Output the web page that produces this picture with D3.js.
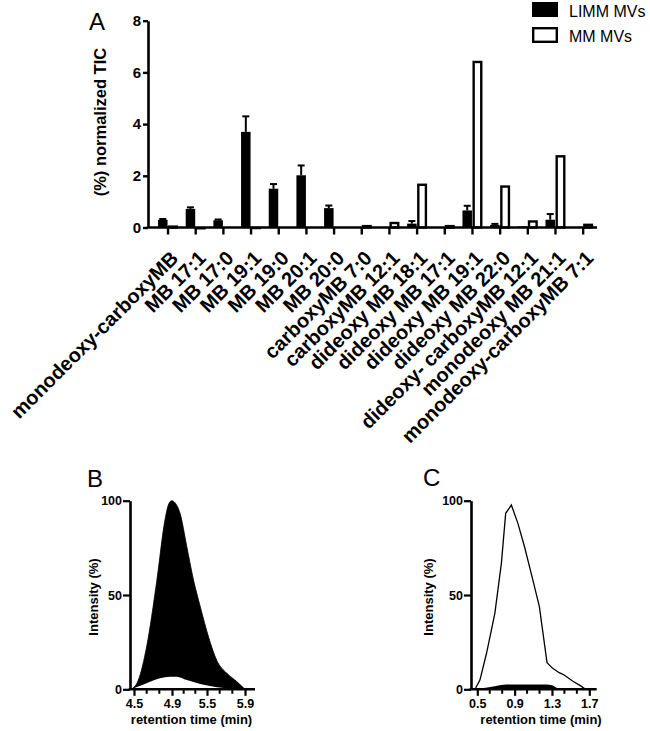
<!DOCTYPE html>
<html><head><meta charset="utf-8">
<script src="https://cdn.jsdelivr.net/npm/d3@7"></script>
<style>
body{margin:0;background:#fff}
svg{display:block}
text{font-family:"Liberation Sans",Arial,Helvetica,sans-serif;fill:#000}
</style>
</head><body>
<svg id="chart" width="650" height="731"></svg>
<script>
// ---------- Panel A data ----------
const categories = [
  "monodeoxy-carboxyMB","MB 17:1","MB 17:0","MB 19:1","MB 19:0","MB 20:1","MB 20:0",
  "carboxyMB 7:0","carboxyMB 12:1","dideoxy MB 18:1","dideoxy MB 17:1","dideoxy MB 19:1",
  "dideoxy MB 22:0","dideoxy- carboxyMB 12:1","monodeoxy MB 21:1","monodeoxy-carboxyMB 7:1"
];
const limmValues = [0.30, 0.72, 0.28, 3.70, 1.50, 2.02, 0.75, 0, 0, 0.15, 0, 0.66, 0.10, 0.04, 0.30, 0];
const limmErrors = [0.03, 0.06, 0.03, 0.60, 0.18, 0.38, 0.10, 0, 0, 0.10, 0, 0.18, 0.04, 0, 0.22, 0];
const mmValues   = [0.08, 0.02, 0, 0.03, 0, 0, 0, 0.10, 0.22, 1.70, 0.10, 6.45, 1.63, 0.28, 2.80, 0.15];
const yTicksA = [0, 2, 4, 6, 8];
const seriesNames = ["LIMM MVs", "MM MVs"];

// ---------- Panel B data ----------
const bTickValues = [4.5, 4.9, 5.5, 5.9];
const bLimmTime = [4.47, 4.546, 4.633, 4.739, 4.826, 4.861, 4.896, 4.952, 5.038, 5.154, 5.269, 5.385, 5.517, 5.604, 5.709, 5.813, 5.9];
const bLimmIntensity = [0, 4.9, 22.6, 57.2, 89.8, 97.7, 100, 98.9, 93.3, 75.6, 57.9, 43.8, 27.6, 15.2, 8.5, 4.1, 0];
const bMmTime = [4.47, 4.633, 4.774, 4.879, 4.981, 5.154, 5.385, 5.604, 5.9];
const bMmIntensity = [0, 3.2, 5.8, 6.7, 6.7, 4.9, 2.8, 1.1, 0];

// ---------- Panel C data ----------
const cTickValues = [0.5, 0.9, 1.3, 1.7];
const cMmTime = [0.475, 0.528, 0.599, 0.688, 0.758, 0.804, 0.865, 0.935, 1.006, 1.095, 1.165, 1.247, 1.307, 1.378, 1.431, 1.52, 1.608, 1.66];
const cMmIntensity = [0, 4.9, 19.1, 40.3, 66.8, 93.3, 97.7, 88, 75.6, 58, 43.8, 14.1, 11.1, 8.8, 7.6, 4.4, 1.8, 0];
const cLimmTime = [0.46, 0.55, 0.7, 0.81, 1.0, 1.24, 1.3, 1.36, 1.4];
const cLimmIntensity = [0, 0.5, 1.8, 2.5, 2.6, 2.5, 2.1, 0.5, 0];
const yTicksBC = [0, 50, 100];

const svg = d3.select("#chart");
const FONT = '"Liberation Sans",Arial,Helvetica,sans-serif';

// ================= Panel A =================
const A = { left: 148, right: 597, top: 20.7, bottom: 227.5 };
const xA = d3.scaleBand().domain(categories).range([154.2, 597]);
const yA = d3.scaleLinear().domain([0, 8]).range([A.bottom, A.top]);
const cx = c => xA(c) + xA.bandwidth() / 2;

svg.append("text").attr("x", 89).attr("y", 30).attr("font-size", 24).text("A");

// y axis
const gyA = svg.append("g").attr("transform", `translate(${A.left},0)`)
  .call(d3.axisLeft(yA).tickValues(yTicksA).tickSize(5).tickSizeOuter(0).tickPadding(2));
gyA.select(".domain").attr("stroke-width", 2.6);
gyA.selectAll(".tick line").attr("stroke-width", 2.4);
gyA.selectAll(".tick text").attr("font-size", 15).attr("font-weight", "bold").attr("font-family", FONT);

svg.append("text")
  .attr("transform", `translate(105.5,${(A.top + A.bottom) / 2 - 2}) rotate(-90)`)
  .attr("text-anchor", "middle").attr("font-size", 16.5).attr("font-weight", "bold")
  .text("(%) normalized TIC");

// x axis
const gxA = svg.append("g").attr("transform", `translate(0,${A.bottom})`)
  .call(d3.axisBottom(xA).tickSize(7).tickSizeOuter(0).tickFormat(""));
gxA.select(".domain").remove();
gxA.selectAll(".tick line").attr("stroke-width", 2.4);

// bars LIMM (black)
const bw = 10;
svg.append("g").selectAll("rect").data(categories.map((c, i) => ({ c, v: limmValues[i] })).filter(d => d.v > 0))
  .join("rect")
  .attr("x", d => cx(d.c) - bw).attr("width", bw - 0.5)
  .attr("y", d => yA(d.v)).attr("height", d => yA(0) - yA(d.v))
  .attr("fill", "#000");

// error bars
const eg = svg.append("g").attr("stroke", "#000").attr("stroke-width", 2);
categories.forEach((c, i) => {
  if (limmErrors[i] <= 0 || limmValues[i] <= 0) return;
  const x0 = cx(c) - bw / 2 - 0.25;
  eg.append("line").attr("x1", x0).attr("x2", x0).attr("y1", yA(limmValues[i])).attr("y2", yA(limmValues[i] + limmErrors[i]));
  eg.append("line").attr("x1", x0 - 3.5).attr("x2", x0 + 3.5).attr("y1", yA(limmValues[i] + limmErrors[i])).attr("y2", yA(limmValues[i] + limmErrors[i]));
});

// bars MM (white)
svg.append("g").selectAll("rect").data(categories.map((c, i) => ({ c, v: mmValues[i] })).filter(d => d.v > 0))
  .join("rect")
  .attr("x", d => cx(d.c) + 1.2).attr("width", bw - 2.4)
  .attr("y", d => yA(d.v) + 1.2).attr("height", d => Math.max(0.1, yA(0) - yA(d.v) - 1.2))
  .attr("fill", "#fff").attr("stroke", "#000").attr("stroke-width", 2.4);

// x axis line
svg.append("line").attr("x1", A.left - 1.3).attr("x2", A.right).attr("y1", A.bottom).attr("y2", A.bottom)
  .attr("stroke", "#000").attr("stroke-width", 2.6);

// x labels
svg.append("g").selectAll("text").data(categories).join("text")
  .attr("transform", c => `translate(${cx(c) + 6.5},${A.bottom + 27}) rotate(-45)`)
  .attr("text-anchor", "end").attr("dy", "0.35em")
  .attr("font-size", 20).attr("font-weight", "bold")
  .text(c => c);

// legend
const lg = svg.append("g");
lg.append("rect").attr("x", 532).attr("y", 2).attr("width", 26).attr("height", 15).attr("fill", "#000");
lg.append("rect").attr("x", 533.2).attr("y", 28.2).attr("width", 23.6).attr("height", 13.6)
  .attr("fill", "#fff").attr("stroke", "#000").attr("stroke-width", 2.4);
lg.append("text").attr("x", 569).attr("y", 17).attr("font-size", 16).text(seriesNames[0]);
lg.append("text").attr("x", 569).attr("y", 42).attr("font-size", 16).text(seriesNames[1]);

// ================= Panels B & C =================
function drawAxes(xs, yS, x0, x1, yTop, yBot, tickVals, ylabX, xlabX) {
  const gy = svg.append("g").attr("transform", `translate(${x0},0)`)
    .call(d3.axisLeft(yS).tickValues(yTicksBC).tickSize(7).tickSizeOuter(0).tickPadding(1));
  gy.select(".domain").attr("stroke-width", 2.6);
  gy.selectAll(".tick line").attr("stroke-width", 2.2);
  gy.selectAll(".tick text").attr("font-size", 12.5).attr("font-weight", "bold").attr("font-family", FONT);

  // minor ticks at thirds between majors
  const minor = [];
  for (let i = 0; i < tickVals.length - 1; i++) {
    const p0 = xs(tickVals[i]), p1 = xs(tickVals[i + 1]);
    minor.push(p0 + (p1 - p0) / 3, p0 + 2 * (p1 - p0) / 3);
  }
  svg.append("g").selectAll("line").data(minor).join("line")
    .attr("x1", d => d).attr("x2", d => d).attr("y1", yBot).attr("y2", yBot + 4.5)
    .attr("stroke", "#000").attr("stroke-width", 2);

  const gx = svg.append("g").attr("transform", `translate(0,${yBot})`)
    .call(d3.axisBottom(xs).tickValues(tickVals).tickSize(6.5).tickSizeOuter(0).tickPadding(3)
      .tickFormat(d3.format(".1f")));
  gx.select(".domain").remove();
  gx.selectAll(".tick line").attr("stroke-width", 2.2);
  gx.selectAll(".tick text").attr("font-size", 12.5).attr("font-weight", "bold").attr("font-family", FONT);
  svg.append("line").attr("x1", x0 - 1.3).attr("x2", x1).attr("y1", yBot).attr("y2", yBot)
    .attr("stroke", "#000").attr("stroke-width", 2.6);

  svg.append("text").attr("x", xlabX).attr("y", 724).attr("text-anchor", "middle")
    .attr("font-size", 13).attr("font-weight", "bold").text("retention time (min)");
  svg.append("text").attr("transform", `translate(${ylabX},${(yTop + yBot) / 2 + 2}) rotate(-90)`)
    .attr("text-anchor", "middle").attr("font-size", 13).attr("font-weight", "bold").text("Intensity (%)");
}

const yTop = 500.7, yBot = 689.3;

// Panel B
const xB = d3.scaleLinear().domain(bTickValues).range([134, 172, 207, 245]);
const yB = d3.scaleLinear().domain([0, 100]).range([yBot, yTop]);
svg.append("text").attr("x", 87).attr("y", 487).attr("font-size", 24).text("B");
const areaB = d3.area().x(d => xB(d[0])).y0(yB(0)).y1(d => yB(d[1])).curve(d3.curveMonotoneX);
svg.append("path").datum(bLimmTime.map((t, i) => [t, bLimmIntensity[i]]))
  .attr("d", areaB).attr("fill", "#000").attr("stroke", "#000").attr("stroke-width", 0.8);
svg.append("path").datum(bMmTime.map((t, i) => [t, bMmIntensity[i]]))
  .attr("d", areaB).attr("fill", "#fff");
drawAxes(xB, yB, 130, 255, yTop, yBot, bTickValues, 97.5, 191.5);

// Panel C
const xC = d3.scaleLinear().domain([0.5, 1.7]).range([477.3, 589.3]);
const yC = d3.scaleLinear().domain([0, 100]).range([yBot, yTop]);
svg.append("text").attr("x", 423).attr("y", 486).attr("font-size", 24).text("C");
const areaC = d3.area().x(d => xC(d[0])).y0(yC(0)).y1(d => yC(d[1]));
const lineC = d3.line().x(d => xC(d[0])).y(d => yC(d[1]));
svg.append("path").datum(cMmTime.map((t, i) => [t, cMmIntensity[i]]))
  .attr("d", lineC).attr("fill", "none").attr("stroke", "#000").attr("stroke-width", 1.3);
svg.append("path").datum(cLimmTime.map((t, i) => [t, cLimmIntensity[i]]))
  .attr("d", areaC.curve(d3.curveMonotoneX)).attr("fill", "#000");
drawAxes(xC, yC, 471, 596.7, yTop, yBot, cTickValues, 433, 541);
</script>
</body></html>
